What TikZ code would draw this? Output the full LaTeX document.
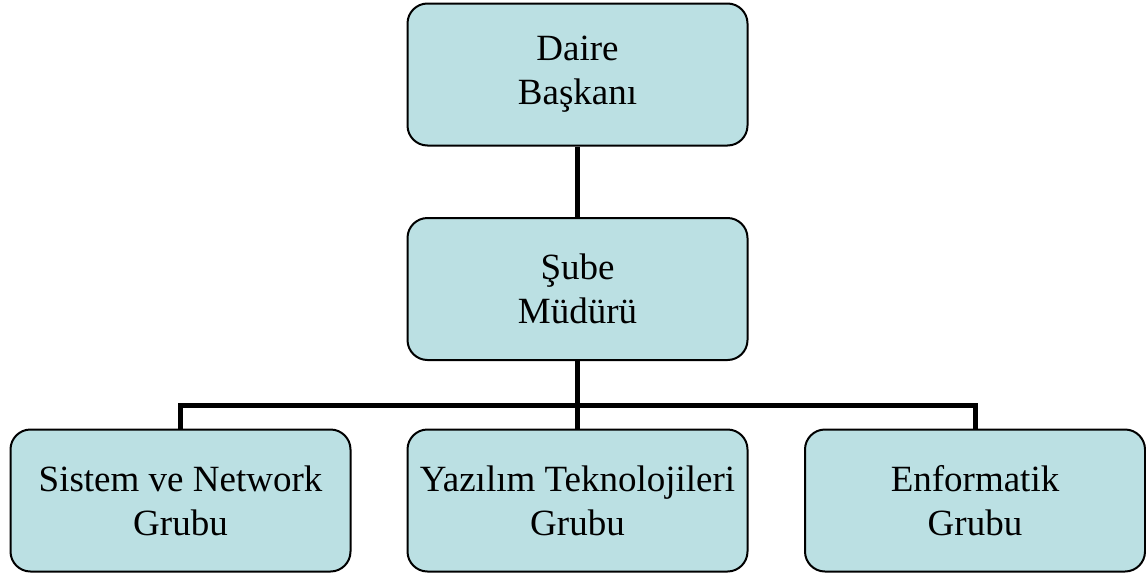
\documentclass[tikz,border=0pt]{standalone}
\usepackage{fontspec}
\setmainfont{Liberation Serif}
\definecolor{boxfill}{RGB}{187,224,227}
\begin{document}
\begin{tikzpicture}[x=1pt,y=-1pt,
  orgbox/.style={draw=black, line width=2pt, fill=boxfill, rounded corners=20pt,
    minimum width=340pt, minimum height=142pt, inner sep=0pt, align=center,
    font=\fontsize{37}{44}\selectfont},
  conn/.style={draw=black, line width=5pt}]
\useasboundingbox (0,0) rectangle (1146,576);
\node[orgbox] (top) at (577.5,74.5) {Daire\\Başkanı};
\node[orgbox] (mid) at (577.5,289) {Şube\\Müdürü};
\node[orgbox] (left) at (180.5,500.5) {Sistem ve Network\\Grubu};
\node[orgbox] (center) at (577.5,500.5) {Yazılım Teknolojileri\\Grubu};
\node[orgbox] (right) at (975,500.5) {Enformatik\\Grubu};
\coordinate (bus) at (577.5,405);
\draw[conn] (top.south) -- (mid.north);
\draw[conn] (mid.south) -- (center.north);
\draw[conn] (left.north) -- (left.north |- bus) -- (right.north |- bus) -- (right.north);
\end{tikzpicture}
\end{document}
